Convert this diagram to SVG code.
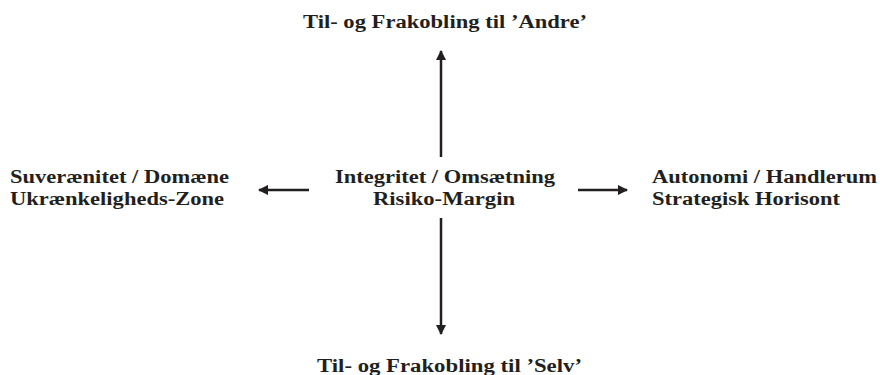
<svg xmlns="http://www.w3.org/2000/svg" width="880" height="375" viewBox="0 0 880 375">
<style>
text{font-family:"Liberation Serif","Times New Roman",serif;font-weight:bold;font-size:18.5px;fill:#231f20}
.ln{stroke:#231f20;stroke-width:2.5;fill:none}
</style>
<defs>
<marker id="ah" viewBox="0 0 10 10" refX="9" refY="5" markerWidth="4.2" markerHeight="4.2" orient="auto" markerUnits="strokeWidth">
<path d="M0,0 L10,5 L0,10 z" fill="#231f20"/>
</marker>
</defs>
<rect width="880" height="375" fill="#fff"/>
<g id="top"><text x="303" y="28" textLength="284" lengthAdjust="spacingAndGlyphs">Til- og Frakobling til ’Andre’</text></g>
<g id="center">
<text x="335" y="183" textLength="220" lengthAdjust="spacingAndGlyphs">Integritet / Omsætning</text>
<text x="373" y="205" textLength="142" lengthAdjust="spacingAndGlyphs">Risiko-Margin</text>
</g>
<g id="left">
<text x="10" y="183" textLength="219" lengthAdjust="spacingAndGlyphs">Suverænitet / Domæne</text>
<text x="10" y="205" textLength="214" lengthAdjust="spacingAndGlyphs">Ukrænkeligheds-Zone</text>
</g>
<g id="right">
<text x="652" y="183" textLength="225" lengthAdjust="spacingAndGlyphs">Autonomi / Handlerum</text>
<text x="652" y="205" textLength="188" lengthAdjust="spacingAndGlyphs">Strategisk Horisont</text>
</g>
<g id="bottom"><text x="317" y="372" textLength="265" lengthAdjust="spacingAndGlyphs">Til- og Frakobling til ’Selv’</text></g>
<g id="connectors">
<line class="ln" x1="441" y1="157" x2="441" y2="51" marker-end="url(#ah)"/>
<line class="ln" x1="441" y1="218" x2="441" y2="334" marker-end="url(#ah)"/>
<line class="ln" x1="309" y1="190" x2="259" y2="190" marker-end="url(#ah)"/>
<line class="ln" x1="578" y1="190" x2="627" y2="190" marker-end="url(#ah)"/>
</g>
</svg>
